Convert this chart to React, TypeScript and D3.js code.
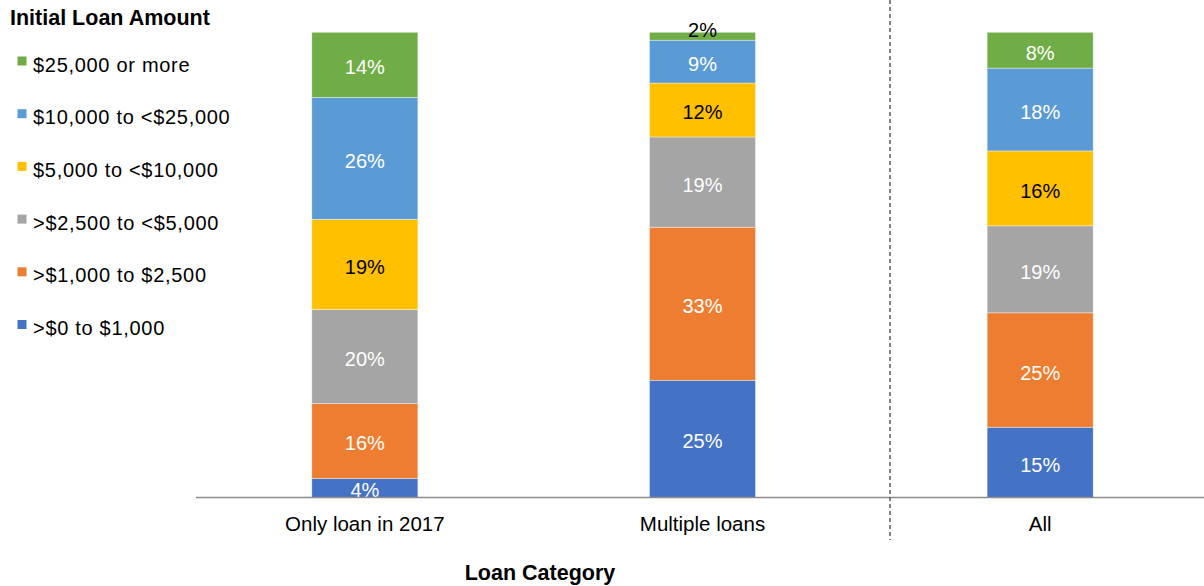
import React from "react";
import * as d3 from "d3";

const categories = ["Only loan in 2017", "Multiple loans", "All"];
const seriesNames = [
  ">$0 to $1,000",
  ">$1,000 to $2,500",
  ">$2,500 to <$5,000",
  "$5,000 to <$10,000",
  "$10,000 to <$25,000",
  "$25,000 or more",
];
const seriesColors = ["#4472C4", "#ED7D31", "#A5A5A5", "#FFC000", "#5B9BD5", "#70AD47"];
const labelColors = ["#fff", "#fff", "#fff", "#000", "#fff", "#fff"];
// values per category, bottom to top (percent)
const onlyLoan = [4.1, 16.1, 20.2, 19.4, 26.2, 14.0];
const multipleLoans = [25.2, 32.9, 19.4, 11.6, 9.2, 1.7];
const allLoans = [15.1, 24.6, 18.7, 16.1, 17.8, 7.7];
const values = [onlyLoan, multipleLoans, allLoans];

const W = 1204;
const H = 586;
const FONT = "'Liberation Sans', Arial, sans-serif";

export default function App() {
  const x = d3.scaleBand<string>().domain(categories).range([196, 1209]).paddingInner(0.686).paddingOuter(0.343);
  const y = d3.scaleLinear().domain([0, 100]).range([497.5, 32.3]);

  const rows = categories.map((c, i) => {
    const r: any = { cat: c };
    seriesNames.forEach((s, j) => (r[s] = values[i][j]));
    return r;
  });
  const stack = d3.stack<any>().keys(seriesNames)(rows);

  const legendItems = seriesNames.slice().reverse();

  return (
    <div style={{ position: "absolute", left: 0, top: 0, width: W, height: H, overflow: "hidden" }}>
      <svg width={W} height={H} style={{ display: "block", fontFamily: FONT }}>
        <rect width={W} height={H} fill="#fff" />
        {/* bars */}
        {stack.map((layer, j) => (
          <g key={layer.key}>
            {layer.map((d, i) => {
              const x0 = x(categories[i]) as number;
              const yTop = y(d[1]);
              const yBot = y(d[0]);
              return (
                <rect
                  key={i}
                  x={x0}
                  y={yTop}
                  width={x.bandwidth()}
                  height={yBot - yTop}
                  fill={seriesColors[j]}
                  stroke="#ffffff"
                  strokeOpacity={0.5}
                  strokeWidth={0.75}
                />
              );
            })}
          </g>
        ))}
        {/* data labels */}
        {stack.map((layer, j) => (
          <g key={"l" + layer.key}>
            {layer.map((d, i) => {
              const cx = (x(categories[i]) as number) + x.bandwidth() / 2;
              const yTop = y(d[1]);
              const yBot = y(d[0]);
              const small = yBot - yTop < 12;
              const ty = small ? yTop + 4.5 : (yTop + yBot) / 2 + 9.5;
              return (
                <text
                  key={i}
                  x={cx}
                  y={ty}
                  textAnchor="middle"
                  fontSize={20}
                  fill={small ? "#000" : labelColors[j]}
                >
                  {Math.round(d[1] - d[0]) + "%"}
                </text>
              );
            })}
          </g>
        ))}
        {/* axis line */}
        <line x1={196} x2={W} y1={497.5} y2={497.5} stroke="#8C8C8C" strokeWidth={1.5} />
        {/* category labels */}
        {categories.map((c) => (
          <text
            key={c}
            x={(x(c) as number) + x.bandwidth() / 2}
            y={531}
            textAnchor="middle"
            fontSize={20.5}
            fill="#000"
          >
            {c}
          </text>
        ))}
        {/* separator */}
        <line x1={890} x2={890} y1={0} y2={540} stroke="#595959" strokeWidth={1.5} strokeDasharray="4 3" />
        {/* axis title */}
        <text x={540} y={580} textAnchor="middle" fontSize={21.5} fontWeight="bold" fill="#000">
          Loan Category
        </text>
        {/* legend */}
        <text x={10} y={25} fontSize={21.5} fontWeight="bold" fill="#000">
          Initial Loan Amount
        </text>
        {legendItems.map((s, k) => {
          const j = seriesNames.indexOf(s);
          const top = 56.5 + k * 52.7;
          return (
            <g key={s}>
              <rect x={17.5} y={top} width={9} height={9} fill={seriesColors[j]} />
              <text x={33} y={top + 15} fontSize={20} letterSpacing={0.7} fill="#000">
                {s}
              </text>
            </g>
          );
        })}
      </svg>
    </div>
  );
}
